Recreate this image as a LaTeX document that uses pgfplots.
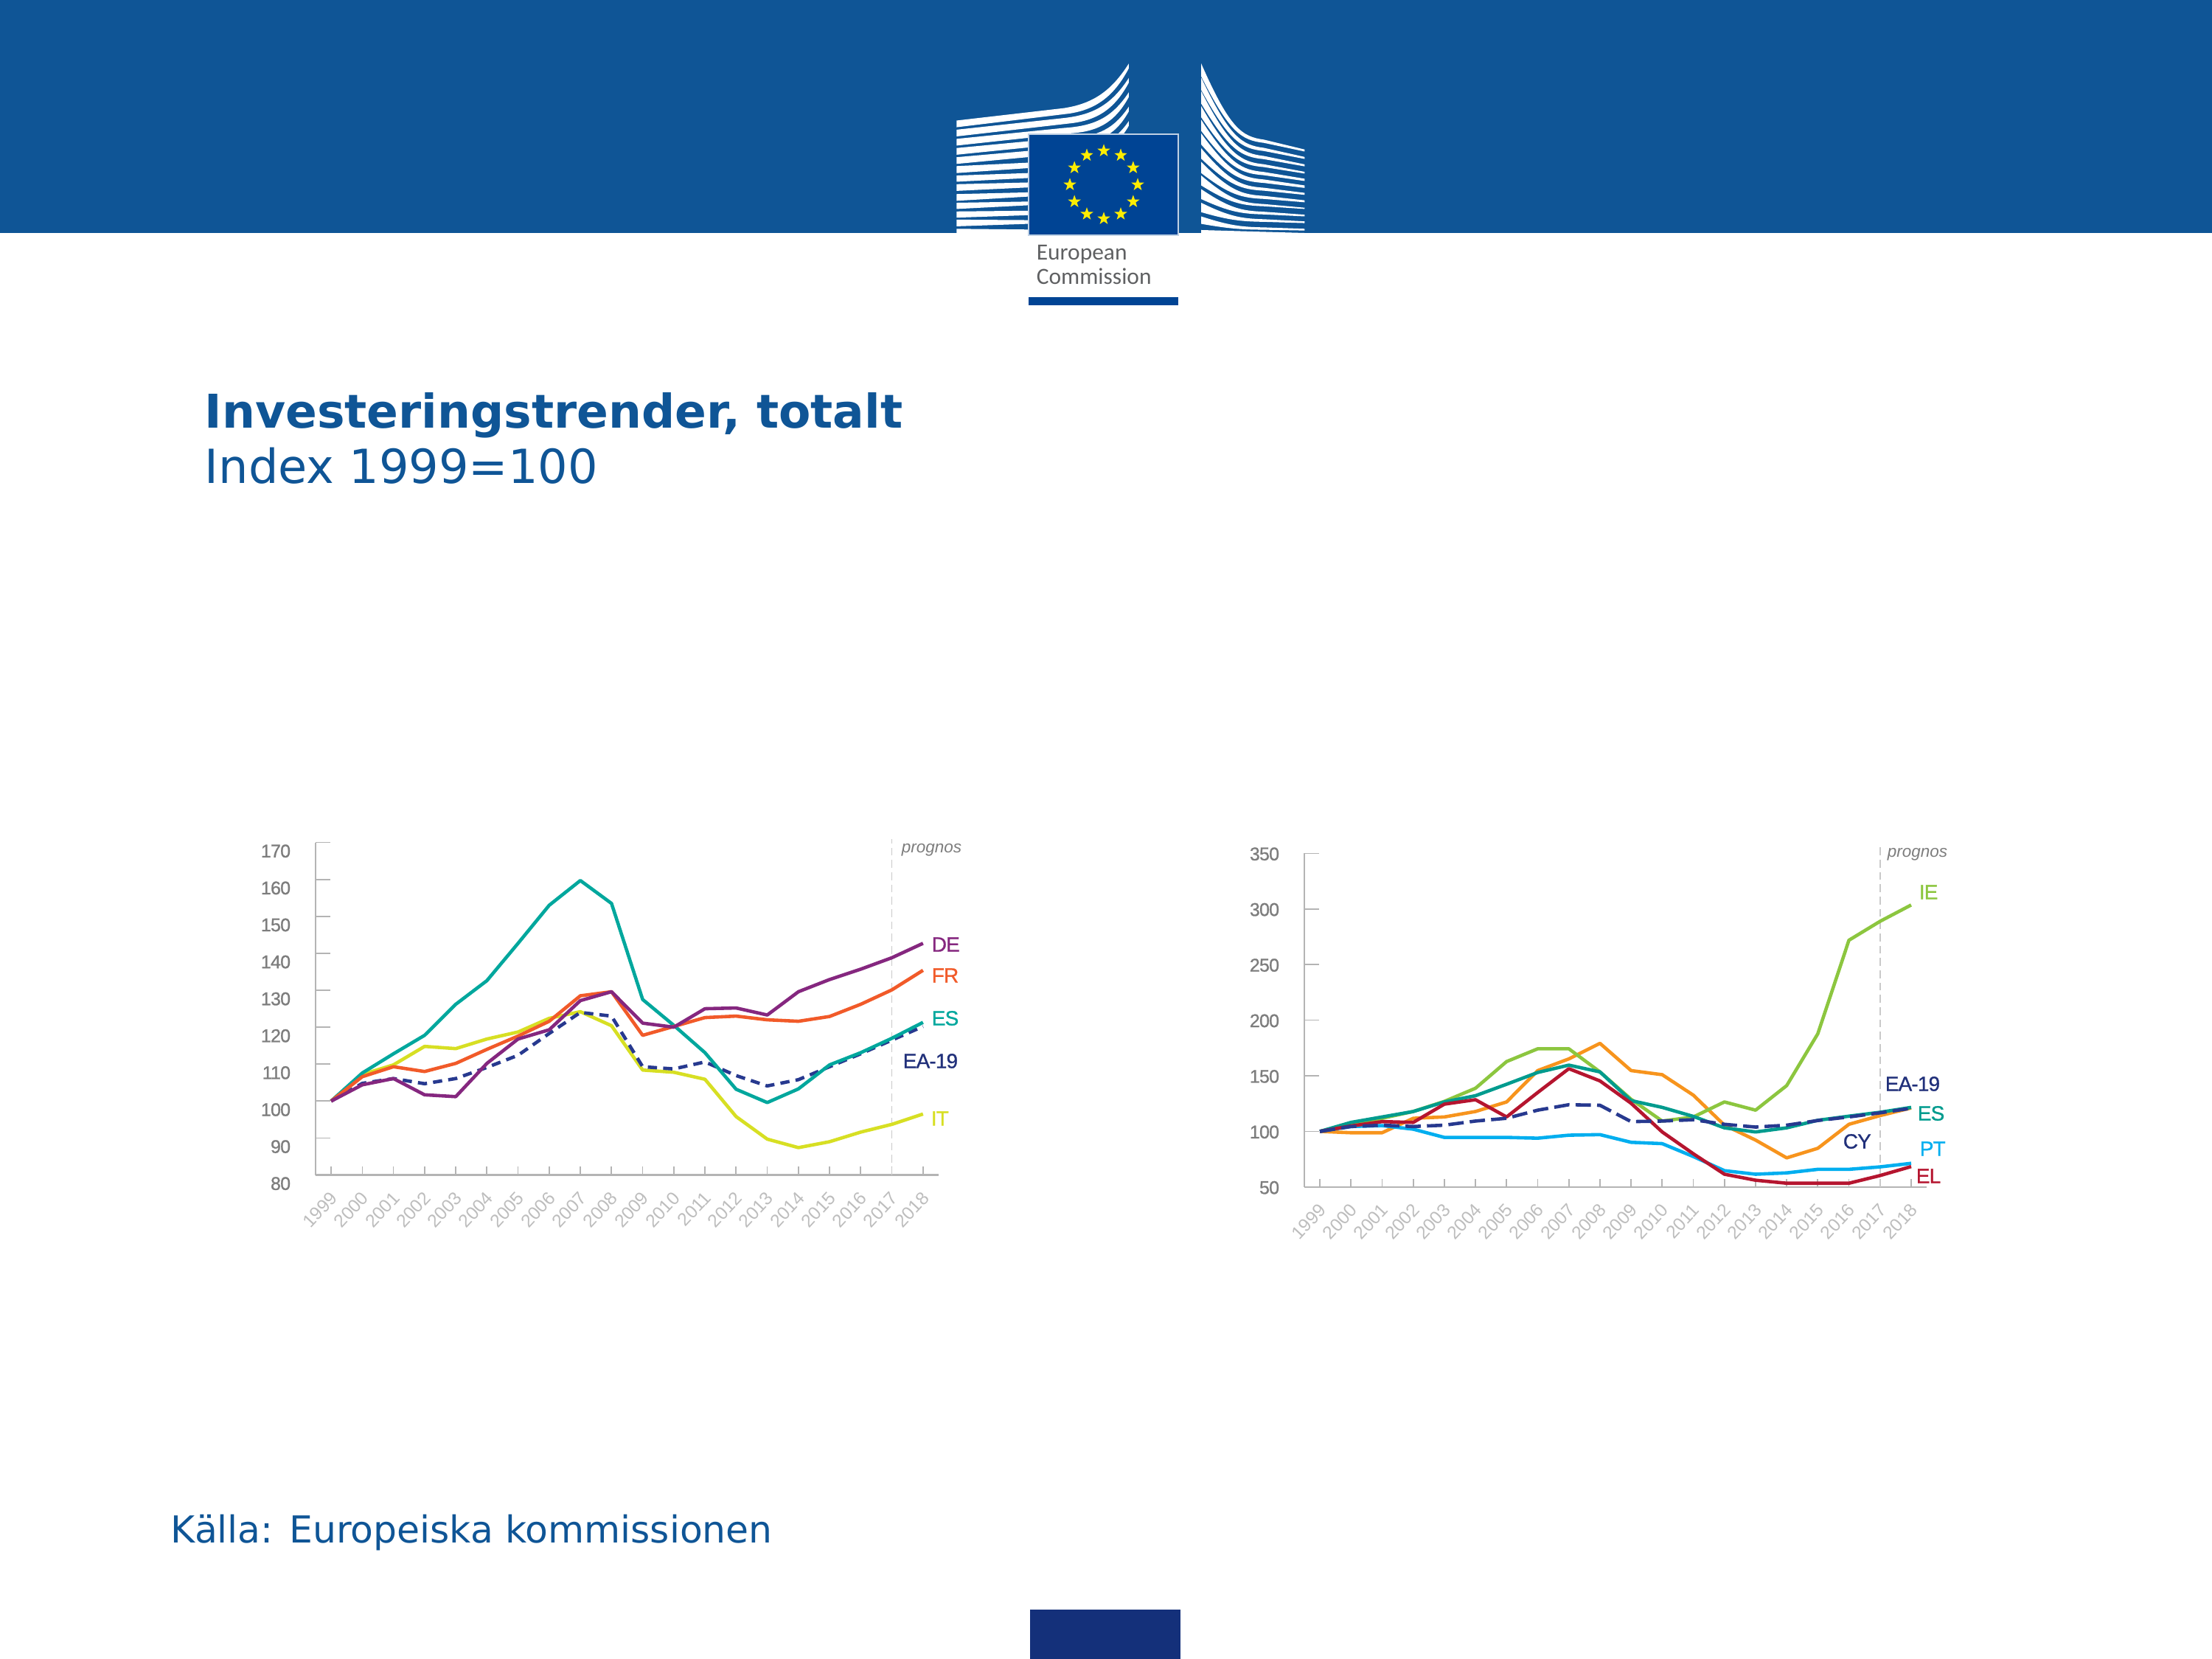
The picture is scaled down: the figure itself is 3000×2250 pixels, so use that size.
\documentclass[border=0pt]{standalone}
\usepackage{pgfplots}
\usepackage{pgfplotstable}
\usepackage{fontspec}
\pgfplotsset{compat=1.18}
\usetikzlibrary{shapes.geometric}
\setmainfont{Liberation Sans}
\newfontfamily\verdana{DejaVu Sans}
\newfontfamily\logofont{Carlito}
\newfontfamily\chartfont[FakeBold=1,LetterSpace=-3]{Liberation Sans}

\definecolor{banner}{HTML}{0F5596}
\definecolor{flagblue}{HTML}{004494}
\definecolor{footblue}{HTML}{14307A}
\definecolor{axisgray}{HTML}{B4B4B4}
\definecolor{tickgray}{HTML}{7D7D7D}
\definecolor{yeargray}{HTML}{BDBDBD}
\definecolor{navy}{HTML}{27398F}
\definecolor{cES}{HTML}{00A79D}
\definecolor{cDE}{HTML}{85277F}
\definecolor{cFR}{HTML}{F15A29}
\definecolor{cIT}{HTML}{D7DF23}
\definecolor{cESb}{HTML}{009B8E}
\definecolor{cIE}{HTML}{8CC63F}
\definecolor{cCY}{HTML}{F7941D}
\definecolor{cEL}{HTML}{B5152F}
\definecolor{cPT}{HTML}{00AEEF}

\pgfplotstableread{
year ES DE FR IT EA
1999 100 100 100 100 100
2000 107.6 104.4 106.6 107.2 104.8
2001 112.8 106.1 109.3 109.8 106.1
2002 117.8 101.7 108.0 114.8 104.7
2003 126.2 101.2 110.2 114.2 106.1
2004 132.6 110.2 114.0 116.8 109.1
2005 142.7 116.8 117.6 118.7 112.4
2006 153.0 119.3 121.6 122.4 118.3
2007 159.7 127.2 128.5 124.2 124.0
2008 153.5 129.6 129.6 120.4 123.0
2009 127.5 121.1 117.8 108.4 109.3
2010 120.5 120.0 120.2 107.8 108.7
2011 113.1 125.0 122.6 105.9 110.6
2012 103.2 125.2 123.0 95.8 106.9
2013 99.6 123.3 122.0 89.7 104.1
2014 103.3 129.6 121.6 87.4 105.8
2015 109.8 132.9 122.9 89.0 109.3
2016 113.1 135.7 126.2 91.6 112.8
2017 117.0 138.8 130.1 93.7 116.5
2018 121.3 142.7 135.4 96.5 120.2
}\lefttable

\pgfplotstableread{
year IE ES CY EL PT EA
1999 100 100 100 100 100 100
2000 106.4 108.1 98.8 104.9 104.4 104.4
2001 111.8 113.0 98.8 108.8 105.2 105.6
2002 117.9 117.9 111.8 108.1 102.0 104.4
2003 127.0 126.5 113.0 124.5 94.6 105.6
2004 138.8 132.1 117.9 128.5 94.6 109.3
2005 162.8 142.4 126.5 113.0 94.6 111.8
2006 174.3 153.0 154.7 135.0 93.9 119.1
2007 174.3 159.6 165.2 156.4 96.6 124.0
2008 153.5 153.5 179.2 145.4 97.1 123.5
2009 128.9 127.7 154.7 125.3 90.2 108.8
2010 109.3 121.6 151.0 99.5 89.0 109.3
2011 113.0 113.5 132.6 79.9 77.4 110.5
2012 126.5 103.2 105.6 61.5 64.7 106.4
2013 119.1 99.5 92.2 56.1 61.5 103.9
2014 141.2 103.2 76.2 53.4 62.7 105.6
2015 187.8 110.0 84.8 53.4 65.9 109.8
2016 271.9 113.7 106.4 53.4 65.9 113.0
2017 288.9 117.2 114.2 60.3 68.1 116.7
2018 303.6 121.6 121.1 68.4 71.3 120.8
}\righttable

\pgfplotstableread{
year val
2017 80
2017 171
}\progleft

\pgfplotstableread{
year val
2017 50
2017 356
}\progright

\pgfplotsset{
  slide/.style={
    scale only axis,
    axis x line=bottom, axis y line=left,
    axis line style={-,axisgray,line width=0.55pt},
    clip=false,
    xmin=1998.5, xmax=2018.5,
    xtick={1999,...,2018},
    tick align=inside,
    tick style={axisgray,line width=0.4pt},
    x tick style={/pgfplots/major tick length=2.7pt},
    y tick style={/pgfplots/major tick length=4.8pt},
    x tick label style={/pgf/number format/1000 sep={},/pgf/number format/assume math mode=true,
      rotate=47,anchor=north east,font=\fontsize{5.9}{6}\selectfont,text=yeargray,xshift=-0.6pt,yshift=0.6pt},
    y tick label style={/pgf/number format/assume math mode=true,
      font=\chartfont\fontsize{6}{6}\selectfont,text=tickgray},
  },
  ser/.style={line width=1.1pt,line join=round,no markers},
  prog/.style={axisgray!70,line width=0.35pt,dash pattern=on 2.5pt off 1.5pt,forget plot},
}
\tikzset{px/.style={x=0.24pt,y=-0.24pt}}

\begin{document}
\begin{tikzpicture}
\begin{scope}[px]
\useasboundingbox (0,0) rectangle (3000,2250);
\fill[banner] (0,0) rectangle (3000,316);
\fill[footblue] (1397,2183) rectangle (1601,2250);

% logo, in the pixel grid of the zoomed crop
\begin{scope}[shift={(1250,60)},xscale=.357,yscale=.336]
  \foreach \d in {0,1,2,3,4}{
    \fill[white]
      ({133},{308+\d*37}) -- ({540},{258+\d*40})
      .. controls ({650},{240+\d*45}) and ({720},{190+\d*56}) .. ({787},{78+\d*58})
      -- ({787},{97+\d*58})
      .. controls ({730},{212+\d*56}) and ({660},{264+\d*45}) .. ({560},{280+\d*40})
      -- ({133},{335+\d*37}) -- cycle;
  }
  \foreach \a/\b/\c/\e in {492/520/478/500,530/555/520/540,565/592/558/578,605/632/598/615,640/665/635/650,675/700/672/690,708/735/710/725,745/762/748/762}{
    \fill[white] (133,\a) -- (405,\c) -- (405,\e) -- (133,\b) -- cycle;
  }
  \foreach \lt/\lb/\rt/\rb in {78/130/425/433,135/185/455/463,190/240/485/493,250/295/515/522,305/350/543/552,360/405/570/580,420/462/600/608,475/520/630/638,530/570/660/665,585/625/688/695,640/678/715/722,695/725/745/752}{
    \pgfmathsetmacro{\tc}{\lt+.75*(\rt-\lt)}
    \pgfmathsetmacro{\td}{\lt+.85*(\rt-\lt)}
    \pgfmathsetmacro{\te}{\lt+.885*(\rt-\lt)}
    \pgfmathsetmacro{\bc}{\lb+.75*(\rb-\lb)}
    \pgfmathsetmacro{\bd}{\lb+.85*(\rb-\lb)}
    \pgfmathsetmacro{\be}{\lb+.885*(\rb-\lb)}
    \fill[white] (1062,\lt) .. controls (1170,\tc) and (1215,\td) .. (1300,\te)
      -- (1455,\rt) -- (1455,\rb) -- (1300,\be)
      .. controls (1215,\bd) and (1170,\bc) .. (1062,\lb) -- cycle;
  }
  \fill[white] (1062,750) -- (1455,762) -- (1062,762) -- cycle;
\end{scope}
\fill[flagblue,draw=white!75!flagblue,line width=0.4pt] (1395,182) rectangle (1598,319);
\foreach \a in {0,30,...,330}{
  \node[star,star points=5,star point ratio=2.5,fill={rgb,255:red,255;green,237;blue,0},inner sep=0pt,minimum size=4.4pt]
    at ({1497+46*cos(\a)},{250.5+46*sin(\a)}) {};
}
\node[anchor=base west,inner sep=0pt,text={rgb,255:red,95;green,96;blue,98}] at (1405,353)
  {\logofont\fontsize{7.55}{8}\selectfont European};
\node[anchor=base west,inner sep=0pt,text={rgb,255:red,95;green,96;blue,98}] at (1405,386)
  {\logofont\fontsize{7.55}{8}\selectfont Commission};
\fill[flagblue] (1395,403) rectangle (1598,414);

% headings
\node[anchor=base west,inner sep=0pt,text=banner] at (277,581)
  {\verdana\fontsize{15.15}{17}\selectfont\bfseries Investeringstrender, totalt};
\node[anchor=base west,inner sep=0pt,text=banner] at (277,656)
  {\verdana\fontsize{15.3}{17}\selectfont Index 1999=100};
\node[anchor=base west,inner sep=0pt,text=banner] at (231,2093)
  {\verdana\fontsize{12.1}{14}\selectfont Källa: Europeiska kommissionen};
\end{scope}

% left chart
\begin{axis}[slide,
  at={(102.72pt,-382.46pt)},anchor=south west,
  width=202.8pt,height=108.24pt,
  ymin=80,ymax=170,ytick={80,90,...,170},
  y tick label style={yshift=-2.8pt,xshift=-4.6pt},
]
\addplot[prog] table[x=year,y=val] {\progleft};
\addplot[ser,color=cIT] table[x=year,y=IT] {\lefttable};
\addplot[ser,color=navy,dash pattern=on 3pt off 2pt] table[x=year,y=EA] {\lefttable};
\addplot[ser,color=cES] table[x=year,y=ES] {\lefttable};
\addplot[ser,color=cFR] table[x=year,y=FR] {\lefttable};
\addplot[ser,color=cDE] table[x=year,y=DE] {\lefttable};
\end{axis}

% right chart
\begin{axis}[slide,
  at={(424.56pt,-386.38pt)},anchor=south west,
  width=202.6pt,height=108.6pt,
  ymin=50,ymax=350,ytick={50,100,...,350},
  y tick label style={yshift=-0.2pt,xshift=-4.6pt},
]
\addplot[prog] table[x=year,y=val] {\progright};
\addplot[ser,color=cCY] table[x=year,y=CY] {\righttable};
\addplot[ser,color=cIE] table[x=year,y=IE] {\righttable};
\addplot[ser,color=cPT] table[x=year,y=PT] {\righttable};
\addplot[ser,color=cESb] table[x=year,y=ES] {\righttable};
\addplot[ser,color=cEL] table[x=year,y=EL] {\righttable};
\addplot[ser,color=navy,dash pattern=on 5pt off 2pt] table[x=year,y=EA] {\righttable};
\end{axis}

% series labels
\begin{scope}[px,lab/.style={anchor=west,inner sep=0pt,font=\chartfont\fontsize{6.7}{7}\selectfont},
  pro/.style={anchor=west,inner sep=0pt,text=tickgray,font=\fontsize{5.4}{6}\selectfont\itshape}]
\node[pro] at (1222,1153) {prognos};
\node[pro] at (2559,1159) {prognos};
\node[lab,text=cDE] at (1263,1281) {DE};
\node[lab,text=cFR] at (1263,1323) {FR};
\node[lab,text=cES] at (1263,1381) {ES};
\node[lab,text=navy!85!black] at (1224,1439) {EA-19};
\node[lab,text=cIT] at (1262,1517) {IT};
\node[lab,text=cIE] at (2602,1210) {IE};
\node[lab,text=navy!85!black] at (2556,1470) {EA-19};
\node[lab,text=cESb] at (2600,1510) {ES};
\node[lab,text=navy!85!black] at (2499,1548) {CY};
\node[lab,text=cPT] at (2603,1558) {PT};
\node[lab,text=cEL] at (2598,1595) {EL};
\end{scope}
\end{tikzpicture}
\end{document}
